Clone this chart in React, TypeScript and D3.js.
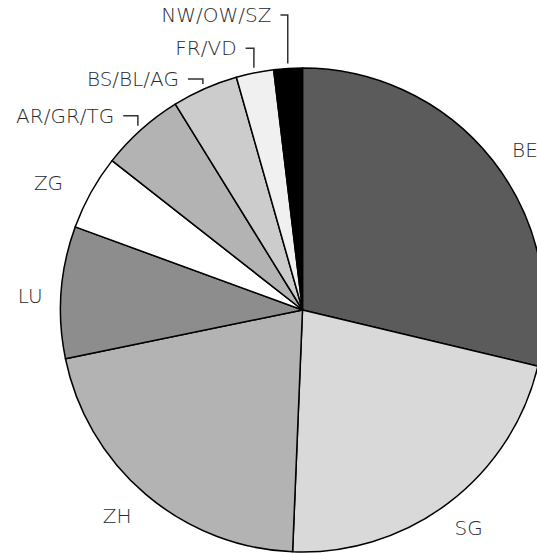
import React from "react";
import * as d3 from "d3";

const categories = ["BE", "SG", "ZH", "LU", "ZG", "AR/GR/TG", "BS/BL/AG", "FR/VD", "NW/OW/SZ"];
const values = [28.7, 21.9, 21.1, 8.8, 5.0, 5.6, 4.4, 2.5, 1.9];
const colors = ["#5b5b5b", "#d9d9d9", "#b3b3b3", "#8d8d8d", "#ffffff", "#b3b3b3", "#cccccc", "#f0f0f0", "#000000"];
// direct labels: small nudges from the arc-based position (annotation layout)
const labelNudgeX = [5, -1, -6, 4, -12, 0, 0, 0, 0];
const labelNudgeY = [12, -3, -5, 6, 8, 0, 0, 0, 0];
// leader-line labels: elbow y and horizontal length (annotation layout)
const leaderLabels = ["AR/GR/TG", "BS/BL/AG", "FR/VD", "NW/OW/SZ"];
const leaderElbowY = [115.7, 79, 48.3, 15];
const leaderHoriz = [14.6, 15, 8.3, 7.3];

const W = 537;
const H = 553;
const cx = 302.5;
const cy = 310;
const R = 242;

export default function App() {
  const data = categories.map((c, i) => ({ cat: c, value: values[i], color: colors[i] }));
  const pie = d3.pie<any>().sort(null).value((d) => d.value);
  const arcs = pie(data);
  const arc = d3.arc<any>().innerRadius(0).outerRadius(R);
  const font = "'DejaVu Sans', sans-serif";
  const textFill = "#2a2a2a";
  return (
    <svg width={W} height={H} style={{ position: "absolute", left: 0, top: 0, overflow: "hidden" }}>
      <rect width={W} height={H} fill="#fff" />
      <g transform={`translate(${cx},${cy})`}>
        {arcs.map((a, i) => (
          <path key={i} d={arc(a) as string} fill={a.data.color} stroke="#000" strokeWidth={1.5} strokeLinejoin="round" />
        ))}
        {arcs.map((a, i) => {
          const mid = (a.startAngle + a.endAngle) / 2;
          const li = leaderLabels.indexOf(a.data.cat);
          if (li < 0) {
            const lr = 277;
            const x = lr * Math.sin(mid) + labelNudgeX[i];
            const y = -lr * Math.cos(mid) + labelNudgeY[i];
            return (
              <text key={"t" + i} x={x} y={y} dy="0.35em" textAnchor="middle" fontFamily={font} fontWeight={200} fontSize={20} fill={textFill}>
                {a.data.cat}
              </text>
            );
          }
          const lr = R + 5;
          const x0 = lr * Math.sin(mid);
          const y0 = -lr * Math.cos(mid);
          const ey = leaderElbowY[li] - cy;
          const hx = x0 - leaderHoriz[li];
          return (
            <g key={"t" + i}>
              <path d={`M${hx},${ey}H${x0}V${y0}`} fill="none" stroke="#333" strokeWidth={1.5} />
              <text x={hx - 9} y={ey} dy="0.35em" textAnchor="end" fontFamily={font} fontWeight={200} fontSize={20} fill={textFill}>
                {a.data.cat}
              </text>
            </g>
          );
        })}
      </g>
    </svg>
  );
}
